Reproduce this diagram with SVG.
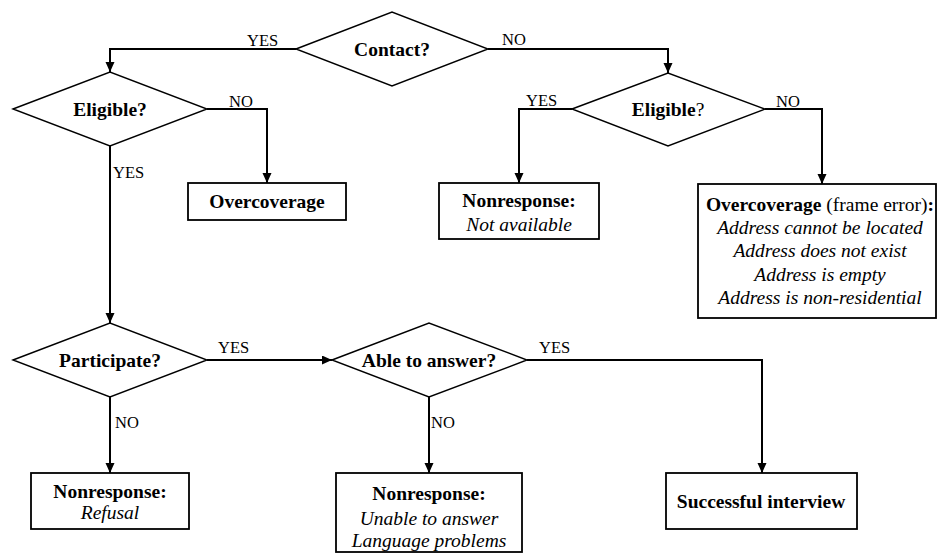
<svg xmlns="http://www.w3.org/2000/svg" width="938" height="555" viewBox="0 0 938 555" font-family="'Liberation Serif', 'DejaVu Serif', serif">
<style>
.bg{fill:#ffffff}
.dia{fill:#ffffff;stroke:#000;stroke-width:1.4}
.box{fill:#ffffff;stroke:#000;stroke-width:1.8}
.con{fill:none;stroke:#000;stroke-width:2}
text{fill:#000}
.b{font-size:19.5px;font-weight:bold;text-anchor:middle}
.i{font-size:19.5px;font-style:italic;text-anchor:middle}
.lbl{font-size:16.5px}
</style>
<defs>
<marker id="arr" markerUnits="userSpaceOnUse" markerWidth="11" markerHeight="10" refX="10" refY="4.5" orient="auto">
<path d="M0,0 L10,4.5 L0,9 Z" fill="#000"/>
</marker>
</defs>
<rect class="bg" x="0" y="0" width="938" height="555"/>
<g id="connectors">
<path class="con" d="M296,49 H110 V72" marker-end="url(#arr)"/>
<path class="con" d="M488,49 H668 V73" marker-end="url(#arr)"/>
<path class="con" d="M207,109 H267 V183" marker-end="url(#arr)"/>
<path class="con" d="M110,146 V323" marker-end="url(#arr)"/>
<path class="con" d="M572,109 H519 V183" marker-end="url(#arr)"/>
<path class="con" d="M765,109 H822 V184" marker-end="url(#arr)"/>
<path class="con" d="M207,360 H332" marker-end="url(#arr)"/>
<path class="con" d="M110,397 V473" marker-end="url(#arr)"/>
<path class="con" d="M429,397 V473" marker-end="url(#arr)"/>
<path class="con" d="M527,360 H762 V473" marker-end="url(#arr)"/>
<text class="lbl" x="247" y="46">YES</text>
<text class="lbl" x="502" y="45">NO</text>
<text class="lbl" x="229" y="107">NO</text>
<text class="lbl" x="113" y="178">YES</text>
<text class="lbl" x="526" y="106">YES</text>
<text class="lbl" x="776" y="107">NO</text>
<text class="lbl" x="218" y="353">YES</text>
<text class="lbl" x="115" y="428">NO</text>
<text class="lbl" x="431" y="428">NO</text>
<text class="lbl" x="539" y="353">YES</text>
</g>
<g id="contact">
<polygon class="dia" points="296,49 392,12 488,49 392,86"/>
<text class="b" x="392" y="56">Contact?</text>
</g>
<g id="eligible-left">
<polygon class="dia" points="13,109 110,72 207,109 110,146"/>
<text class="b" x="110" y="116">Eligible?</text>
</g>
<g id="eligible-right">
<polygon class="dia" points="572,109 668,73 765,109 668,146"/>
<text class="b" x="668" y="116">Eligible<tspan font-weight="normal">?</tspan></text>
</g>
<g id="overcoverage">
<rect class="box" x="188" y="183" width="158" height="37"/>
<text class="b" x="267" y="208">Overcoverage</text>
</g>
<g id="not-available">
<rect class="box" x="439" y="183" width="160" height="56"/>
<text class="b" x="519" y="207">Nonresponse:</text>
<text class="i" x="519" y="231">Not available</text>
</g>
<g id="frame-error">
<rect class="box" x="698" y="184" width="238" height="134"/>
<text class="b" x="820" y="211">Overcoverage <tspan font-weight="normal">(frame error)</tspan>:</text>
<text class="i" x="820" y="234">Address cannot be located</text>
<text class="i" x="820" y="257">Address does not exist</text>
<text class="i" x="820" y="281">Address is empty</text>
<text class="i" x="820" y="304">Address is non-residential</text>
</g>
<g id="participate">
<polygon class="dia" points="13,360 110,323 207,360 110,397"/>
<text class="b" x="110" y="367">Participate?</text>
</g>
<g id="able">
<polygon class="dia" points="332,360 429,323 527,360 429,397"/>
<text class="b" x="429" y="367">Able to answer?</text>
</g>
<g id="refusal">
<rect class="box" x="31" y="473" width="158" height="56"/>
<text class="b" x="110" y="498">Nonresponse:</text>
<text class="i" x="110" y="519">Refusal</text>
</g>
<g id="unable">
<rect class="box" x="336" y="473" width="186" height="79"/>
<text class="b" x="429" y="500">Nonresponse:</text>
<text class="i" x="429" y="525">Unable to answer</text>
<text class="i" x="429" y="547">Language problems</text>
</g>
<g id="successful">
<rect class="box" x="666" y="473" width="191" height="56"/>
<text class="b" x="761" y="508">Successful interview</text>
</g>
</svg>
